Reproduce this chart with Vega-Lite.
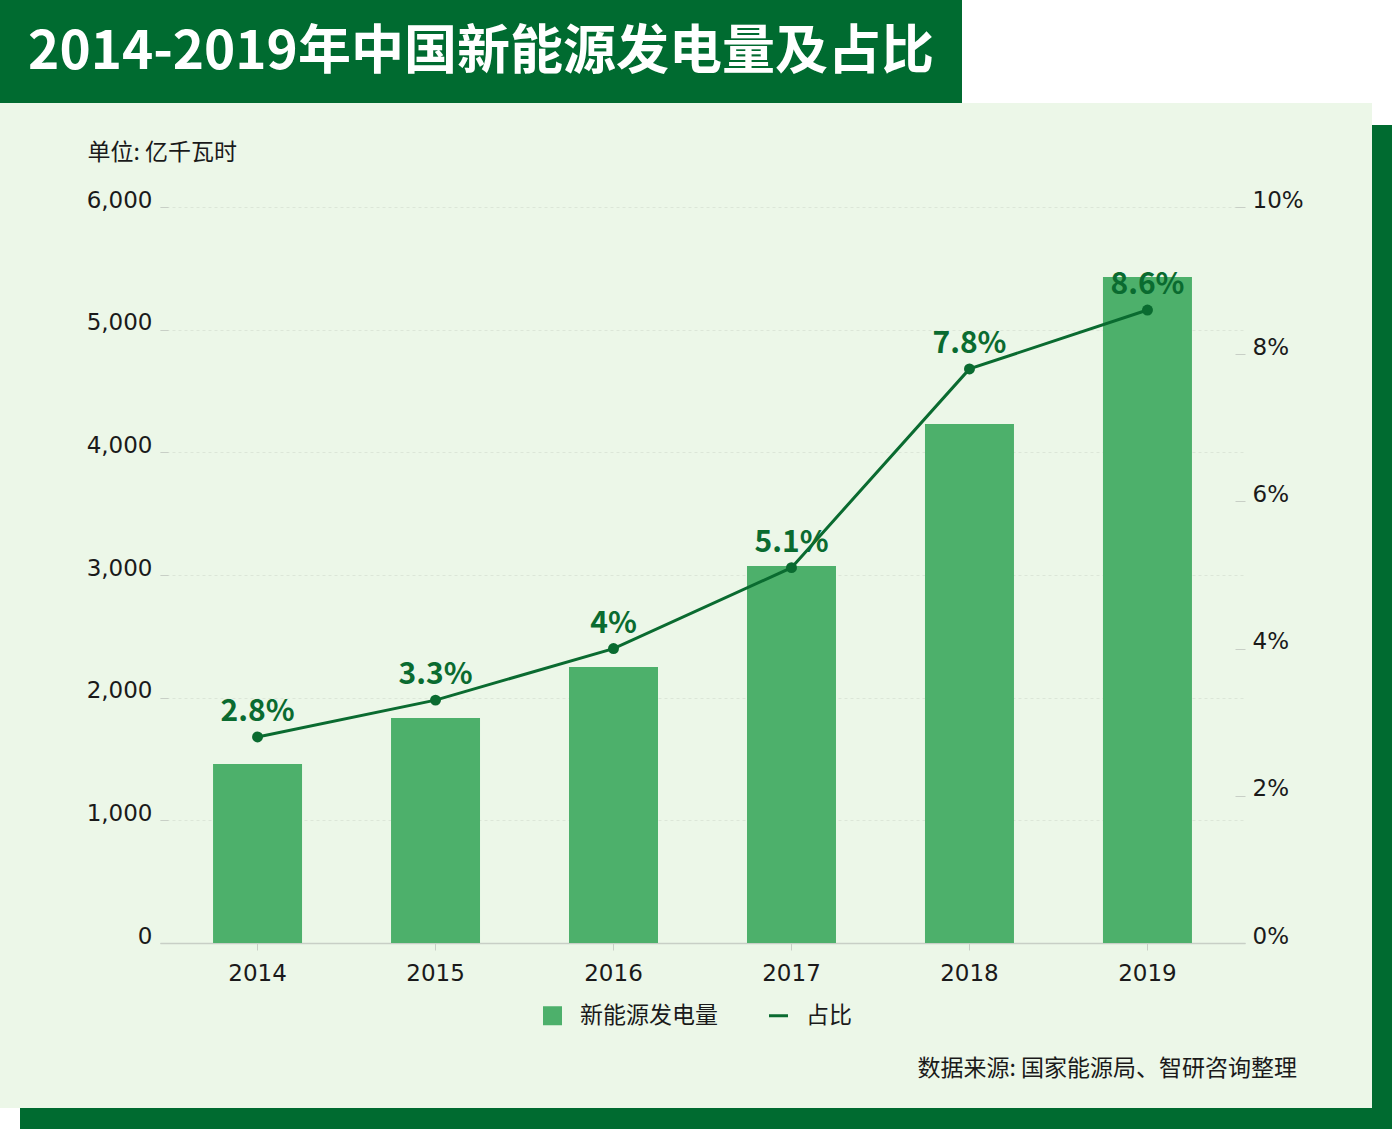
{
  "$schema": "https://vega.github.io/schema/vega-lite/v6.json",
  "padding": 0,
  "autosize": {"type": "pad"},
  "background": "#ECF7E8",
  "spacing": 0,
  "resolve": {"scale": {"color": "independent"}, "legend": {"color": "independent"}},
  "config": {
    "view": {"stroke": null},
    "font": "Noto Sans CJK SC",
    "concat": {"spacing": 0}
  },
  "vconcat": [
    {
      "spacing": 0,
      "hconcat": [
        {
          "width": 962, "height": 103,
          "view": {"fill": "#006B30"},
          "data": {"values": [{"t": "2014-2019年中国新能源发电量及占比"}]},
          "mark": {"type": "text", "color": "#ffffff", "fontSize": 53, "fontWeight": "bold", "align": "center", "baseline": "middle", "dy": 1},
          "encoding": {"text": {"field": "t"}}
        },
        {
          "width": 430, "height": 103,
          "view": {"fill": "#ffffff"},
          "data": {"values": [{}]},
          "mark": {"type": "text", "text": ""},
          "encoding": {}
        }
      ]
    },
    {
      "spacing": 0,
      "resolve": {"scale": {"color": "independent"}, "legend": {"color": "independent"}},
      "hconcat": [
        {
          "spacing": 0,
          "resolve": {"scale": {"color": "independent"}, "legend": {"color": "independent"}},
          "vconcat": [
            {
              "width": 1372, "height": 38,
              "data": {"values": [{}]},
              "mark": {"type": "text", "text": ""},
              "encoding": {}
            },
            {
              "bounds": "flush",
              "spacing": 0,
              "resolve": {"scale": {"color": "independent"}, "legend": {"color": "independent"}},
              "hconcat": [
                {
                  "width": 160, "height": 736,
                  "data": {"values": [{}]},
                  "mark": {"type": "text", "text": ""},
                  "encoding": {}
                },
                {
                  "width": 1085, "height": 736,
                  "data": {"values": [
                    {"year": "2014", "value": 1459, "pct": 0.028},
                    {"year": "2015", "value": 1834, "pct": 0.033},
                    {"year": "2016", "value": 2250, "pct": 0.040},
                    {"year": "2017", "value": 3073, "pct": 0.051},
                    {"year": "2018", "value": 4231, "pct": 0.078},
                    {"year": "2019", "value": 5429, "pct": 0.086}
                  ]},
                  "title": {
                    "text": "数据来源: 国家能源局、智研咨询整理",
                    "orient": "bottom", "anchor": "end", "dx": -6, "offset": 30,
                    "fontSize": 23, "fontWeight": "normal", "color": "#1a1a1a"
                  },
                  "encoding": {
                    "x": {
                      "field": "year", "type": "ordinal",
                      "scale": {"paddingInner": 0.5, "paddingOuter": 0.298},
                      "axis": {
                        "title": null, "labelAngle": 0, "labelFontSize": 23, "labelFont": "DejaVu Sans", "labelColor": "#1a1a1a",
                        "domainColor": "#c8cfc6", "domainWidth": 1.5, "tickColor": "#c8cfc6", "tickSize": 7,
                        "labelPadding": 12, "labelBaseline": "top"
                      }
                    }
                  },
                  "layer": [
                    {
                      "mark": {"type": "bar"},
                      "encoding": {
                        "y": {
                          "field": "value", "type": "quantitative",
                          "scale": {"domain": [0, 6000], "nice": false},
                          "axis": {
                            "title": "单位: 亿千瓦时", "titleAngle": 0, "titleAlign": "left", "titleBaseline": "middle",
                            "titleX": -73, "titleY": -55, "titleFontSize": 23, "titleFontWeight": "normal", "titleColor": "#1a1a1a",
                            "values": [0, 1000, 2000, 3000, 4000, 5000, 6000], "format": ",.0f",
                            "labelFontSize": 23, "labelFont": "DejaVu Sans", "labelColor": "#1a1a1a", "labelBaseline": "alphabetic", "labelPadding": 16,
                            "domain": false, "ticks": true, "tickColor": "#c8cfc6", "tickSize": -8,
                            "grid": true, "gridColor": "#dce6d8", "gridDash": [3, 3], "gridWidth": 1
                          }
                        },
                        "color": {
                          "datum": "新能源发电量",
                          "scale": {"domain": ["新能源发电量", "占比"], "range": ["#4DB06B", "#0A6B30"]},
                          "legend": {
                            "orient": "none", "legendX": 381, "legendY": 797, "direction": "horizontal", "title": null,
                            "padding": 0,
                            "labelFontSize": 23, "labelColor": "#1a1a1a", "symbolSize": 361,
                            "labelOffset": 16, "columnPadding": 45,
                            "encode": {
                              "symbols": {
                                "update": {
                                  "shape": {"signal": "datum.value === '占比' ? 'stroke' : 'square'"},
                                  "fill": {"scale": "color", "field": "value"},
                                  "stroke": {"scale": "color", "field": "value"},
                                  "strokeWidth": {"signal": "datum.value === '占比' ? 3 : 0"}
                                }
                              }
                            }
                          }
                        }
                      }
                    },
                    {
                      "layer": [
                        {
                          "mark": {"type": "line", "strokeWidth": 3},
                          "encoding": {
                            "y": {"field": "pct", "type": "quantitative"},
                            "color": {"datum": "占比"}
                          }
                        },
                        {
                          "mark": {"type": "point", "filled": true, "size": 120, "opacity": 1},
                          "encoding": {
                            "y": {"field": "pct", "type": "quantitative"},
                            "color": {"datum": "占比"}
                          }
                        },
                        {
                          "mark": {"type": "text", "fontSize": 30, "fontWeight": "bold", "color": "#0A6B30", "baseline": "alphabetic", "dy": -16},
                          "encoding": {
                            "y": {"field": "pct", "type": "quantitative"},
                            "text": {"field": "pct", "type": "quantitative", "format": ".1~%"}
                          }
                        }
                      ],
                      "encoding": {
                        "y": {
                          "field": "pct", "type": "quantitative",
                          "scale": {"domain": [0, 0.1], "nice": false},
                          "axis": {
                            "orient": "right", "title": null, "values": [0, 0.02, 0.04, 0.06, 0.08, 0.1], "format": ".0%",
                            "labelFontSize": 23, "labelFont": "DejaVu Sans", "labelColor": "#1a1a1a", "labelBaseline": "alphabetic", "labelPadding": 17,
                            "domain": false, "ticks": true, "tickColor": "#c8cfc6", "tickSize": -10, "grid": false
                          }
                        }
                      }
                    }
                  ],
                  "resolve": {"scale": {"y": "independent"}}
                },
                {
                  "width": 127, "height": 736,
                  "data": {"values": [{}]},
                  "mark": {"type": "text", "text": ""},
                  "encoding": {}
                }
              ]
            },
            {
              "width": 1372, "height": 23,
              "data": {"values": [{}]},
              "mark": {"type": "text", "text": ""},
              "encoding": {}
            }
          ]
        },
        {
          "spacing": 0,
          "vconcat": [
            {
              "width": 20, "height": 22,
              "view": {"fill": "#ffffff"},
              "data": {"values": [{}]},
              "mark": {"type": "text", "text": ""},
              "encoding": {}
            },
            {
              "width": 20, "height": 983,
              "view": {"fill": "#006B30"},
              "data": {"values": [{}]},
              "mark": {"type": "text", "text": ""},
              "encoding": {}
            }
          ]
        }
      ]
    },
    {
      "spacing": 0,
      "hconcat": [
        {
          "width": 20, "height": 21,
          "view": {"fill": "#ffffff"},
          "data": {"values": [{}]},
          "mark": {"type": "text", "text": ""},
          "encoding": {}
        },
        {
          "width": 1372, "height": 21,
          "view": {"fill": "#006B30"},
          "data": {"values": [{}]},
          "mark": {"type": "text", "text": ""},
          "encoding": {}
        }
      ]
    }
  ]
}
